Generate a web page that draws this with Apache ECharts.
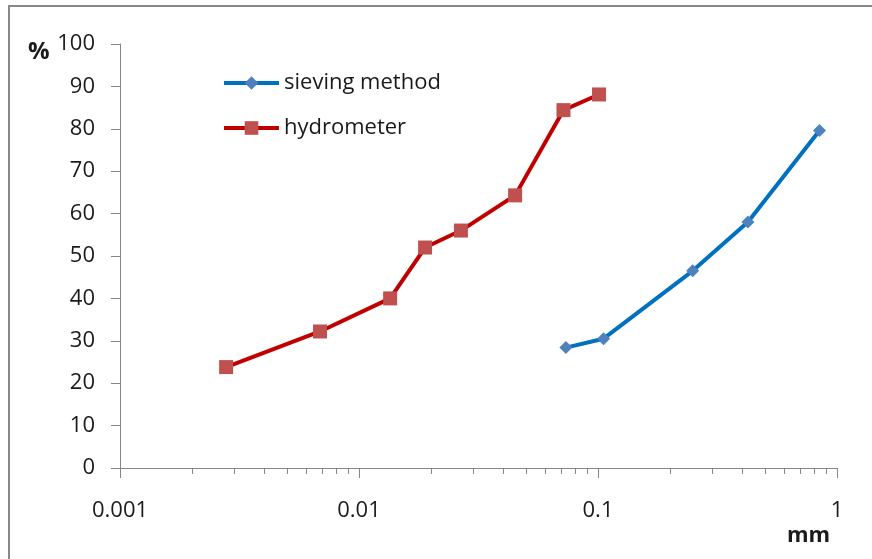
<!DOCTYPE html>
<html>
<head>
<meta charset="utf-8">
<script src="https://cdn.jsdelivr.net/npm/echarts@6/dist/echarts.min.js"></script>
<style>
html,body{margin:0;padding:0;background:#fff;}
#c{width:872px;height:559px;}
</style>
</head>
<body>
<div id="c"></div>
<script>
// Data (grain size in mm, percent passing)
var sievingSize = [0.0734, 0.1055, 0.249, 0.424, 0.845];
var sievingPct  = [28.4, 30.5, 46.5, 58.0, 79.6];
var hydroSize   = [0.00278, 0.00687, 0.0135, 0.0189, 0.0267, 0.045, 0.0717, 0.101];
var hydroPct    = [23.8, 32.2, 40.0, 52.0, 56.0, 64.3, 84.4, 88.1];
var seriesNames = ['sieving method', 'hydrometer'];
var yTicks = [0, 10, 20, 30, 40, 50, 60, 70, 80, 90, 100];
var xMajorTicks = [0.001, 0.01, 0.1, 1];

function zip(a, b) { return a.map(function (v, i) { return [v, b[i]]; }); }

var FONT = '"Open Sans", sans-serif';
var chart = echarts.init(document.getElementById('c'), null, {renderer: 'canvas'});
chart.setOption({
  backgroundColor: '#ffffff',
  animation: false,
  grid: {left: 120, top: 44, right: 35, bottom: 91, containLabel: false},
  legend: {
    orient: 'vertical',
    left: 217,
    top: 67,
    itemWidth: 55,
    itemHeight: 17,
    itemGap: 23,
    data: seriesNames,
    lineStyle: {width: 4},
    textStyle: {fontFamily: FONT, fontSize: 22, color: '#1a1a1a', lineHeight: 22}
  },
  xAxis: {
    type: 'log',
    logBase: 10,
    min: xMajorTicks[0],
    max: xMajorTicks[xMajorTicks.length - 1],
    axisLine: {show: true, lineStyle: {color: '#868686', width: 1}},
    axisTick: {show: true, inside: false, length: 10, lineStyle: {color: '#868686'}},
    minorTick: {show: true, splitNumber: 9, length: 6, lineStyle: {color: '#868686'}},
    splitLine: {show: false},
    minorSplitLine: {show: false},
    axisLabel: {fontFamily: FONT, fontSize: 22, color: '#1a1a1a', margin: 32,
      formatter: function (v) { return String(+v.toPrecision(3)); }}
  },
  yAxis: {
    type: 'value',
    min: yTicks[0],
    max: yTicks[yTicks.length - 1],
    interval: 10,
    axisLine: {show: true, lineStyle: {color: '#868686', width: 1}},
    axisTick: {show: true, inside: false, length: 9, lineStyle: {color: '#868686'}},
    splitLine: {show: false},
    axisLabel: {fontFamily: FONT, fontSize: 22, color: '#1a1a1a', margin: 25}
  },
  graphic: [
    {type: 'rect', shape: {x: 9, y: 6, width: 1000, height: 1000},
     style: {fill: 'none', stroke: '#888888', lineWidth: 2}, silent: true, z: -1},
    {type: 'text', left: 28, top: 40,
     style: {text: '%', fontFamily: FONT, fontSize: 24, fontWeight: 'bold', fill: '#1a1a1a'}},
    {type: 'text', left: 787, top: 525,
     style: {text: 'mm', fontFamily: FONT, fontSize: 22, fontWeight: 'bold', fill: '#1a1a1a'}}
  ],
  series: [
    {
      name: seriesNames[0],
      type: 'line',
      data: zip(sievingSize, sievingPct),
      symbol: 'diamond',
      symbolSize: 13,
      showAllSymbol: true,
      lineStyle: {color: '#0070C0', width: 4},
      itemStyle: {color: '#4F81BD'},
      z: 3
    },
    {
      name: seriesNames[1],
      type: 'line',
      data: zip(hydroSize, hydroPct),
      symbol: 'rect',
      symbolSize: 14,
      showAllSymbol: true,
      lineStyle: {color: '#C00000', width: 4},
      itemStyle: {color: '#C0504D'},
      z: 3
    }
  ]
});
</script>
</body>
</html>
